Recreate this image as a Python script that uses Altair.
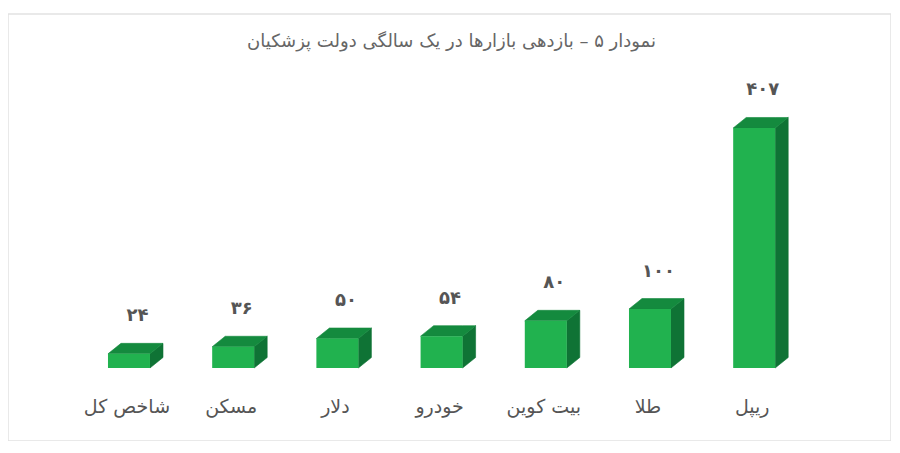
import altair as alt
import pandas as pd

# ---- data ----
categories = ["شاخص کل", "مسکن", "دلار", "خودرو", "بیت کوین", "طلا", "ریپل"]
values = [24, 36, 50, 54, 80, 100, 407]
title_text = "نمودار ۵ – بازدهی بازارها در یک سالگی دولت پزشکیان"

# ---- layout / style constants ----
W, H = 883, 427
X_DOM = [-1.161, 7.313]
Y_DOM = [-123.8, 600.3]
HALF = 0.2015      # half of the front-face width (in category units)
DX = 0.125         # depth offset (x)
DY = 17.8          # depth offset (y, value units)
FONT = "DejaVu Sans"
C_FRONT = "#21b24f"
C_TOP = "#148a3e"
C_SIDE = "#0f7335"

fa_digits = str.maketrans("0123456789", "۰۱۲۳۴۵۶۷۸۹")

front, side, top, labels = [], [], [], []
for i, (c, v) in enumerate(zip(categories, values)):
    L, R = i - HALF, i + HALF
    front.append({"cat": c, "x": L, "x2": R, "y": 0, "y2": v})
    side += [
        {"cat": c, "x": R, "y": 0, "y2": v},
        {"cat": c, "x": R + DX, "y": DY, "y2": v + DY},
    ]
    top += [
        {"cat": c, "x": L, "y": v, "y2": v},
        {"cat": c, "x": L + DX, "y": v, "y2": v + DY},
        {"cat": c, "x": R, "y": v, "y2": v + DY},
        {"cat": c, "x": R + DX, "y": v + DY, "y2": v + DY},
    ]
    labels.append({"cat": c, "xc": float(i), "xv": i + DX / 2, "vtop": v + DY,
                   "vlabel": str(v).translate(fa_digits)})

front_df = pd.DataFrame(front)
side_df = pd.DataFrame(side)
top_df = pd.DataFrame(top)
lab_df = pd.DataFrame(labels)

xs = alt.Scale(domain=X_DOM, nice=False, zero=False)
ys = alt.Scale(domain=Y_DOM, nice=False, zero=False)

side_layer = alt.Chart(side_df).mark_area(color=C_SIDE, stroke=C_SIDE, strokeWidth=0.6).encode(
    x=alt.X("x:Q", scale=xs, axis=None),
    y=alt.Y("y:Q", scale=ys, axis=None),
    y2="y2:Q",
    detail="cat:N",
)
top_layer = alt.Chart(top_df).mark_area(color=C_TOP, stroke=C_TOP, strokeWidth=0.6).encode(
    x=alt.X("x:Q", scale=xs, axis=None),
    y=alt.Y("y:Q", scale=ys, axis=None),
    y2="y2:Q",
    detail="cat:N",
)
front_layer = alt.Chart(front_df).mark_rect(color=C_FRONT).encode(
    x=alt.X("x:Q", scale=xs, axis=None),
    x2="x2:Q",
    y=alt.Y("y:Q", scale=ys, axis=None),
    y2="y2:Q",
)
value_layer = alt.Chart(lab_df).mark_text(
    font=FONT, fontSize=18, fontWeight="bold", color="#555555", dx=2, dy=-27, baseline="middle"
).encode(
    x=alt.X("xv:Q", scale=xs, axis=None),
    y=alt.Y("vtop:Q", scale=ys, axis=None),
    text="vlabel:N",
)
cat_layer = alt.Chart(lab_df).mark_text(
    font=FONT, fontSize=19, color="#555555", dx=-2, dy=39, baseline="middle"
).encode(
    x=alt.X("xc:Q", scale=xs, axis=None),
    y=alt.value(354),
    text="cat:N",
)
title_layer = alt.Chart(pd.DataFrame({"t": [title_text]})).mark_text(
    font=FONT, fontSize=18, color="#666666", baseline="middle"
).encode(
    x=alt.value(W / 2 + 2),
    y=alt.value(28),
    text="t:N",
)

chart = alt.layer(side_layer, top_layer, front_layer, value_layer, cat_layer, title_layer).properties(
    width=W, height=H, autosize="none",
    padding={"left": 0, "top": 6, "right": 0, "bottom": 0},
    background="white",
).configure_view(stroke="#e2e2e2", strokeWidth=1.5)

chart.save("out.html", embed_options={"renderer": "svg", "actions": False})
